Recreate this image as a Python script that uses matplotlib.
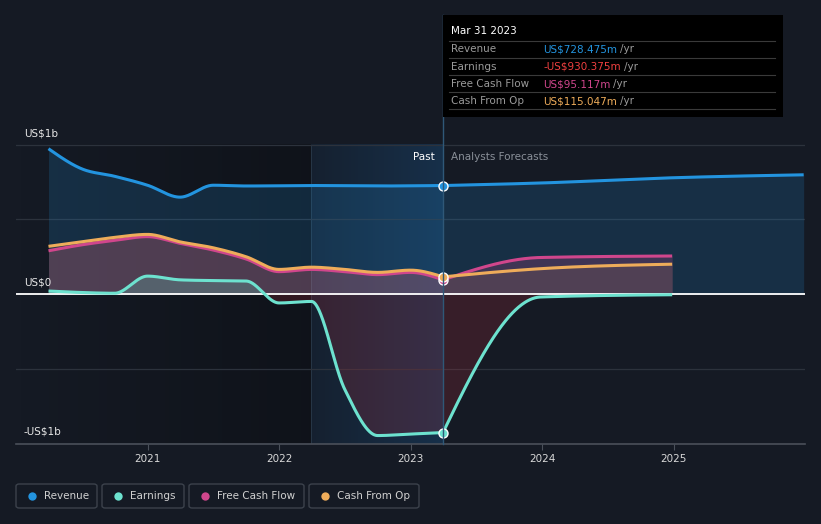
import numpy as np
import matplotlib
matplotlib.use("Agg")
import matplotlib.pyplot as plt
from matplotlib.patches import FancyBboxPatch, Rectangle
from matplotlib.lines import Line2D

# quarterly history (fraction of a year), values in US$ billions
past_x = [2020.247, 2020.5, 2020.75, 2021.0, 2021.247, 2021.5, 2021.75, 2022.0,
          2022.247, 2022.5, 2022.75, 2023.0, 2023.247]
revenue_past = [0.975, 0.84, 0.79, 0.73, 0.65, 0.73, 0.725, 0.726,
                0.728, 0.727, 0.725, 0.726, 0.728]
earnings_past = [0.02, 0.01, 0.005, 0.12, 0.095, 0.09, 0.087, -0.06,
                 -0.05, -0.64, -0.95, -0.94, -0.930]
fcf_past = [0.29, 0.33, 0.36, 0.385, 0.34, 0.295, 0.235, 0.15,
            0.165, 0.15, 0.13, 0.145, 0.095]
cfo_past = [0.32, 0.35, 0.38, 0.40, 0.35, 0.31, 0.25, 0.165,
            0.18, 0.165, 0.145, 0.16, 0.115]

# analyst forecasts
fc_x = [2023.247, 2023.99, 2024.99, 2025.99]
revenue_fc = [0.728, 0.745, 0.78, 0.80]
earnings_fc = [-0.930, -0.02, -0.005]
fcf_fc = [0.095, 0.245, 0.255]
cfo_fc = [0.115, 0.17, 0.20]

year_ticks = [2021, 2022, 2023, 2024, 2025]
y_labels = ["US$1b", "US$0", "-US$1b"]
legend_names = ["Revenue", "Earnings", "Free Cash Flow", "Cash From Op"]
tip_rows = [("Revenue", "US$728.475m"), ("Earnings", "-US$930.375m"),
            ("Free Cash Flow", "US$95.117m"), ("Cash From Op", "US$115.047m")]

BG = "#151a24"
C_REV = "#2394df"
C_EARN = "#6de2cf"
C_FCF = "#d0468c"
C_CFO = "#eeac5a"
tip_colors = [C_REV, "#f04040", C_FCF, C_CFO]

W, H = 821, 524


def fx(px):
    return px / W


def fy(py):
    return 1 - py / H


def smooth(x, y, n=120):
    # monotone cubic (same idea as d3 curveMonotoneX)
    x = np.asarray(x, float)
    y = np.asarray(y, float)
    h = np.diff(x)
    s = np.diff(y) / h
    m = np.zeros_like(y)
    for i in range(1, len(x) - 1):
        p = (s[i - 1] * h[i] + s[i] * h[i - 1]) / (h[i - 1] + h[i])
        m[i] = (np.sign(s[i - 1]) + np.sign(s[i])) * min(abs(s[i - 1]), abs(s[i]), 0.5 * abs(p))
    if len(x) > 2:
        m[0] = (3 * s[0] - m[1]) / 2
        m[-1] = (3 * s[-1] - m[-2]) / 2
    else:
        m[:] = s[0]
    xs, ys = [], []
    for i in range(len(x) - 1):
        t = np.linspace(0, 1, n, endpoint=(i == len(x) - 2))
        t2, t3 = t * t, t * t * t
        h00 = 2 * t3 - 3 * t2 + 1
        h10 = t3 - 2 * t2 + t
        h01 = -2 * t3 + 3 * t2
        h11 = t3 - t2
        xs.append(x[i] + t * h[i])
        ys.append(h00 * y[i] + h10 * h[i] * m[i] + h01 * y[i + 1] + h11 * h[i] * m[i + 1])
    return np.concatenate(xs), np.concatenate(ys)


def series(xp, yp, xf, yf):
    a, b = smooth(xp, yp)
    c, d = smooth(xf, yf)
    return np.concatenate([a, c[1:]]), np.concatenate([b, d[1:]])


fig = plt.figure(figsize=(W / 100, H / 100), dpi=100, facecolor=BG)
ax_top, ax_bot = 130, 444
ax = fig.add_axes([fx(16), fy(ax_bot), fx(805) - fx(16), (ax_bot - ax_top) / H])
ax.set_facecolor(BG)
ax.set_xlim(2020.0, 2026.0)
y_top = (294 - ax_top) / 149
y_bot = (294 - ax_bot) / 149
ax.set_ylim(y_bot, y_top)

now = past_x[-1]
# past shading, darkening towards the highlighted last year
grad = np.linspace(0, 1, 256).reshape(1, -1)
ax.imshow(np.dstack([np.zeros((1, 256, 3)), grad[..., None] * 0.28]),
          extent=[2020.0, 2022.24, y_bot, 1.0], aspect="auto", zorder=0.5)
blue = np.array([0.10, 0.32, 0.52])
ax.imshow(np.dstack([np.tile(blue, (1, 256, 1)), (0.12 + grad * 0.28)[..., None]]),
          extent=[2022.24, now, y_bot, 1.0], aspect="auto", zorder=0.6)
ax.plot([2022.24, 2022.24], [y_bot, 1.0], color="#2a3a4a", lw=0.6, zorder=0.7)

for v in [1.0, 0.5, -0.5]:
    ax.axhline(v, color="#2c323c", lw=0.9, zorder=0.8)

rx, ry = series(past_x, revenue_past, fc_x, revenue_fc)
ex, ey = series(past_x, earnings_past, fc_x[:3], earnings_fc)
fx_, fy_ = series(past_x, fcf_past, fc_x[:3], fcf_fc)
cx, cy = series(past_x, cfo_past, fc_x[:3], cfo_fc)

ax.fill_between(rx, ry, 0, color=C_REV, alpha=0.18, lw=0, zorder=1)
ax.fill_between(fx_, fy_, 0, color=C_FCF, alpha=0.22, lw=0, zorder=1.1)
ax.fill_between(cx, cy, 0, color=C_CFO, alpha=0.10, lw=0, zorder=1.2)
ax.fill_between(ex, ey, 0, where=ey >= 0, color=C_EARN, alpha=0.22, lw=0, zorder=1.3, interpolate=True)
ax.fill_between(ex, ey, 0, where=ey < 0, color="#c03040", alpha=0.20, lw=0, zorder=1.3, interpolate=True)

ax.axhline(0, color="white", lw=1.3, zorder=1.5)

ax.plot(rx, ry, color=C_REV, lw=2.2, zorder=3, solid_capstyle="butt")
ax.plot(fx_, fy_, color=C_FCF, lw=2.2, zorder=3.1, solid_capstyle="butt")
ax.plot(cx, cy, color=C_CFO, lw=2.2, zorder=3.2, solid_capstyle="butt")
ax.plot(ex, ey, color=C_EARN, lw=2.2, zorder=3.3, solid_capstyle="butt")

for val, col in [(revenue_past[-1], C_REV), (fcf_past[-1], C_FCF),
                 (cfo_past[-1], C_CFO), (earnings_past[-1], C_EARN)]:
    ax.plot([now], [val], "o", ms=6.5, color=col, mec="white", mew=1.0, zorder=5)

for s in ["top", "right", "left"]:
    ax.spines[s].set_visible(False)
ax.spines["bottom"].set_color("#4a505a")
ax.spines["bottom"].set_linewidth(1.2)
ax.set_yticks([])
ax.set_xticks(year_ticks)
ax.set_xticklabels([str(y) for y in year_ticks], color="#d8d8d8", fontsize=7.5)
ax.tick_params(axis="x", length=4, color="#4a505a", pad=3)

for lab, yv in zip(y_labels, [1.0, 0.0, -1.0]):
    ax.text(0.01, yv + 0.045, lab, transform=ax.get_yaxis_transform(),
            color="#e6e6e6", fontsize=7.5, va="bottom", ha="left", zorder=6)

ax.text(now - 0.06, 0.92, "Past", color="white", fontsize=7.5, ha="right", va="center", zorder=6)
ax.text(now + 0.06, 0.92, "Analysts Forecasts", color="#8a9099", fontsize=7.5,
        ha="left", va="center", zorder=6)

# vertical marker line up to the tooltip
fig.add_artist(Line2D([fx(443), fx(443)], [fy(444), fy(15)], color="#2f5878", lw=1.0, zorder=2))

# tooltip
fig.add_artist(Rectangle((fx(443), fy(117)), fx(783) - fx(443), fy(15) - fy(117),
                         facecolor="black", edgecolor="none", zorder=10))
fig.text(fx(451), fy(31), "Mar 31 2023", color="white", fontsize=7.5,
         va="center", ha="left", zorder=11, fontweight="medium")
for yy in [41, 58, 75, 92, 109]:
    fig.add_artist(Line2D([fx(449), fx(775)], [fy(yy), fy(yy)], color="#3a3a3a", lw=0.8, zorder=11))
renderer = fig.canvas.get_renderer()
for i, ((lab, val), col) in enumerate(zip(tip_rows, tip_colors)):
    yc = 49.5 + i * 17.3
    fig.text(fx(451), fy(yc), lab, color="#9a9a9a", fontsize=7.5, va="center", zorder=11)
    t = fig.text(fx(543), fy(yc), val, color=col, fontsize=7.5, va="center", zorder=11)
    bb = t.get_window_extent(renderer=renderer)
    fig.text(bb.x1 / fig.dpi / fig.get_figwidth() + fx(3), fy(yc), "/yr", color="#9a9a9a",
             fontsize=7.5, va="center", zorder=11)

# legend boxes
boxes = [(16, 97), (102, 184), (189, 304), (309, 419)]
for (x0, x1), name, col in zip(boxes, legend_names, [C_REV, C_EARN, C_FCF, C_CFO]):
    fig.add_artist(FancyBboxPatch((fx(x0), fy(508)), fx(x1) - fx(x0), fy(484) - fy(508),
                                  boxstyle="round,pad=0,rounding_size=0.004",
                                  facecolor="none", edgecolor="#3c424c", lw=1.0))
    fig.add_artist(Line2D([fx(x0 + 16)], [fy(496)], marker="o", ms=6, color=col, mew=0))
    fig.text(fx(x0 + 28), fy(496), name, color="#d0d0d0", fontsize=7.5, va="center", ha="left")

fig.savefig("out.png", dpi=100, facecolor=BG)
